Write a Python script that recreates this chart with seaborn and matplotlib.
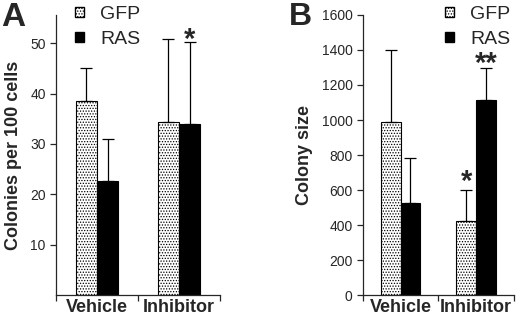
import numpy as np
import pandas as pd
import seaborn as sns
import matplotlib.pyplot as plt
from matplotlib.patches import Patch

sns.set_style('ticks')
plt.rcParams['font.family'] = ['Liberation Sans', 'DejaVu Sans']
plt.rcParams['hatch.linewidth'] = 0.6

conditions = ['Vehicle', 'Inhibitor']
groups = ['GFP', 'RAS']

# panel A: colonies per 100 cells
colonies_gfp = [38.5, 34.3]
colonies_ras = [22.7, 34.0]
colonies_gfp_err = [6.5, 16.5]
colonies_ras_err = [8.3, 16.3]

# panel B: colony size
size_gfp = [990, 425]
size_ras = [525, 1115]
size_gfp_err = [410, 175]
size_ras_err = [260, 180]


def make_df(gfp, ras, gfp_err, ras_err):
    return pd.DataFrame({
        'condition': conditions * 2,
        'group': ['GFP'] * 2 + ['RAS'] * 2,
        'value': gfp + ras,
        'err': gfp_err + ras_err,
    })


def draw_panel(ax, df, ylim, yticks, ylabel):
    sns.barplot(data=df, x='condition', y='value', hue='group', order=conditions,
                hue_order=groups, width=0.52, palette=['white', 'black'],
                edgecolor='black', linewidth=0.8, errorbar=None, legend=False, ax=ax)
    # one-sided error bars from the bar positions
    bar_sets = list(ax.containers)
    for g, bars in zip(groups, bar_sets):
        sub = df[df['group'] == g].set_index('condition').loc[conditions]
        xs = [b.get_x() + b.get_width() / 2 for b in bars]
        ax.errorbar(xs, sub['value'], yerr=[np.zeros(2), sub['err']], fmt='none',
                    ecolor='black', elinewidth=0.9, capsize=4, capthick=0.9)
        if g == 'GFP':
            for b in bars:
                b.set_hatch('......')
    ax.set_ylim(*ylim)
    ax.set_xlim(-0.5, 1.5)
    ax.set_yticks(yticks)
    ax.tick_params(axis='y', labelsize=10, length=4, width=0.9)
    ax.set_xticks([0, 1])
    ax.set_xticklabels(conditions, fontsize=13, fontweight='bold')
    ax.tick_params(axis='x', length=0, pad=3)
    ax.set_xticks([-0.5, 0.5, 1.5], minor=True)
    ax.tick_params(axis='x', which='minor', length=4, width=0.9)
    ax.set_xlabel('')
    ax.set_ylabel(ylabel, fontsize=13, fontweight='bold', labelpad=6)
    for s in ['left', 'bottom']:
        ax.spines[s].set_linewidth(0.9)
    sns.despine(ax=ax)
    return ax


fig = plt.figure(figsize=(5.2, 3.18), dpi=100)
axA = fig.add_axes([0.108, 0.072, 0.315, 0.881])
axB = fig.add_axes([0.698, 0.072, 0.290, 0.881])

dfA = make_df(colonies_gfp, colonies_ras, colonies_gfp_err, colonies_ras_err)
dfB = make_df(size_gfp, size_ras, size_gfp_err, size_ras_err)

draw_panel(axA, dfA, (0, 55.6), [10, 20, 30, 40, 50], 'Colonies per 100 cells')
draw_panel(axB, dfB, (0, 1600), list(range(0, 1601, 200)), 'Colony size')

# significance marks
axA.text(1.13, 47.8, '*', ha='center', va='bottom', fontsize=21, fontweight='bold')
axB.text(0.87, 565, '*', ha='center', va='bottom', fontsize=21, fontweight='bold')
axB.text(1.13, 1243, '**', ha='center', va='bottom', fontsize=21, fontweight='bold')

# panel letters
fig.text(0.003, 0.995, 'A', fontsize=24, fontweight='bold', va='top', ha='left')
fig.text(0.555, 0.995, 'B', fontsize=23, fontweight='bold', va='top', ha='left')

handles = [Patch(facecolor='white', edgecolor='black', hatch='......', label='GFP'),
           Patch(facecolor='black', edgecolor='black', label='RAS')]
for x0 in [0.129, 0.841]:
    fig.legend(handles=handles, loc='upper left', bbox_to_anchor=(x0, 1.005),
               frameon=False, fontsize=14, handlelength=0.45, handleheight=0.45,
               handletextpad=0.85, labelspacing=0.4, borderaxespad=0)

fig.savefig('out.png', dpi=100)
